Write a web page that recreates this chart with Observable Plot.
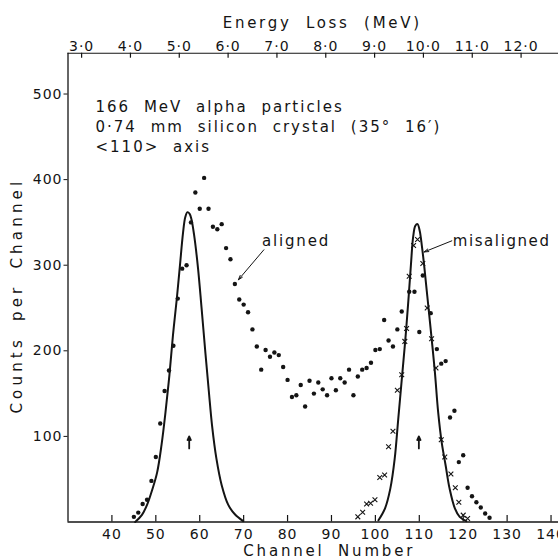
<!DOCTYPE html>
<html><head><meta charset="utf-8">
<script src="https://cdn.jsdelivr.net/npm/d3@7"></script>
<script src="https://cdn.jsdelivr.net/npm/@observablehq/plot@0.6"></script>
<style>
html,body{margin:0;padding:0;background:#fff;}
</style>
</head><body><div id="chart"></div>
<script>
// ---- data ----
const alignedChannel = [45,46,47,48,49,50,51,52,53,54,55,56,57,58,59,60,61,62,63,64,65,66,67,68,69,70,71,72,73,74,75,76,77,78,79,80,81,82,83,84,85,86,87,88,89,90,91,92,93,94,95,96,97,98,99,100,101,102,103,104,105,106,107.7,108.9,110,110.8,112.6,114,115,116,117,118,119,120,121,122,123,124,125,126];
const alignedCounts  = [6,11,21,26,48,76,115,153,177,206,261,296,300,350,385,366,402,366,345,342,348,320,307,278,260,254,245,225,205,178,201,193,198,195,181,166,146,148,160,135,165,150,163,155,148,168,154,168,163,178,148,170,178,180,186,201,202,236,212,205,225,246,269,269,222,288,244,202,185,188,122,130,70,78,40,30,23,17,10,5];

const misalignedChannel = [96.0,97.1,98.0,98.9,99.9,101.0,102.1,103.0,104.0,105.0,106.0,106.7,107.1,107.7,108.7,109.6,110.8,111.8,112.8,113.8,115.0,115.8,117.2,118.2,119.0,120.0,121.0];
const misalignedCounts  = [6,11.5,21,22,26,52,55,88,106,154,172,211,226,287,323,330,302,250,214,180,96,76,56,40,23,8,4];

// solid fitted curves
const fitAlignedChannel = [45.3,46.8,48.0,49.2,50.3,51.3,52.2,53.1,53.9,54.8,55.5,56.2,56.7,57.2,57.7,58.1,58.7,59.6,60.4,61.3,62.1,62.8,63.8,65.0,66.5,68.0,69.9];
const fitAlignedCounts  = [0,8,20,38,58,90,128,172,218,262,300,338,356,362,360,354,336,297,251,197,151,113,74,43,20,9,1];
const fitMisChannel = [100.7,102.2,103.4,104.4,105.2,106.0,106.8,107.5,108.1,108.6,109.1,109.6,110.1,110.6,111.1,111.7,112.4,113.5,114.3,115.1,116.0,116.9,118.1,119.2,120.7];
const fitMisCounts  = [2,16,39,74,120,166,212,258,301,333,346,348,340,322,300,270,235,178,128,93,66,39,16,6,1];

const markerChannel = [57.6, 109.9];
const markerFrom = [86, 86];
const markerTo = [100, 100];

const channelTicks = [40,50,60,70,80,90,100,110,120,130,140];
const countTicks = [100,200,300,400,500];
const energyTicks = [3,4,5,6,7,8,9,10,11,12];
// energy calibration of the top axis (channel of 3.0 MeV, channels per MeV)
const energyC0 = 33.1, energyE0 = 3, channelsPerMeV = 11.12;
const energyToChannel = e => energyC0 + (e - energyE0) * channelsPerMeV;

const infoLines = ["166 MeV alpha particles", "0·74 mm silicon crystal (35° 16′)", "<110> axis"];

// ---- build ----
const aligned = alignedChannel.map((c,i)=>({c, n: alignedCounts[i]}));
const misaligned = misalignedChannel.map((c,i)=>({c, n: misalignedCounts[i]}));
const fitA = fitAlignedChannel.map((c,i)=>({c, n: fitAlignedCounts[i]}));
const fitM = fitMisChannel.map((c,i)=>({c, n: fitMisCounts[i]}));
const markers = markerChannel.map((c,i)=>({c, a: markerFrom[i], b: markerTo[i]}));
const energyTickChannels = energyTicks.map(energyToChannel);

const W = 558, H = 559;
const mL = 67.5, mR = 0, mT = 52.7, mB = 37.5;
const xDomain = [30, 141.7], yDomain = [0, 547.7];
const frameH = H - mT - mB;
const ink = "#141414";
const font = "DejaVu Sans";

const chart = Plot.plot({
  width: W, height: H,
  marginLeft: mL, marginRight: mR, marginTop: mT, marginBottom: mB,
  style: {fontFamily: font, fontSize: "14px", color: ink, background: "#fff"},
  x: {domain: xDomain},
  y: {domain: yDomain},
  marks: [
    // frame lines
    Plot.ruleX([xDomain[0]], {stroke: ink, strokeWidth: 1.3}),
    Plot.ruleY([yDomain[0]], {stroke: ink, strokeWidth: 1.3}),
    Plot.ruleY([yDomain[1]], {stroke: ink, strokeWidth: 1.1}),
    // inward ticks
    Plot.ruleX(channelTicks, {x: d => d, insetTop: frameH - 6.5, stroke: ink, strokeWidth: 1.2}),
    Plot.ruleX(energyTickChannels, {x: d => d, insetBottom: frameH - 5, stroke: ink, strokeWidth: 1.2}),
    // axes
    Plot.axisX({ticks: channelTicks, tickSize: 0, tickPadding: 7.5, label: null, fontSize: 14}),
    Plot.axisX({anchor: "top", ticks: energyTickChannels, tickSize: 0, tickPadding: 2.5, label: null, fontSize: 14,
      tickFormat: c => {
        const e = Math.round(((c - energyC0) / channelsPerMeV + energyE0) * 10) / 10;
        return e.toFixed(1).replace(".", "·");
      }}),
    Plot.axisY({ticks: countTicks, tickSize: 4, tickPadding: 1.5, label: null, fontSize: 14, stroke: ink}),
    // fitted curves
    Plot.line(fitA, {x: "c", y: "n", curve: "catmull-rom", stroke: ink, strokeWidth: 2}),
    Plot.line(fitM, {x: "c", y: "n", curve: "catmull-rom", stroke: ink, strokeWidth: 2}),
    // data
    Plot.dot(aligned, {x: "c", y: "n", r: 2.2, fill: ink, stroke: "none"}),
    Plot.dot(misaligned, {x: "c", y: "n", symbol: "times", r: 2.3, stroke: ink, strokeWidth: 1.1}),
    // peak markers
    Plot.arrow(markers, {x: "c", y1: "a", y2: "b", stroke: ink, strokeWidth: 1.8, headLength: 5, headAngle: 50}),
    // annotation arrows
    Plot.arrow([{x1: 74.6, y1: 318, x2: 68.8, y2: 283}], {x1: "x1", y1: "y1", x2: "x2", y2: "y2", stroke: ink, strokeWidth: 1, headLength: 7, headAngle: 35}),
    Plot.arrow([{x1: 117.4, y1: 328.5, x2: 111.1, y2: 315.5}], {x1: "x1", y1: "y1", x2: "x2", y2: "y2", stroke: ink, strokeWidth: 1, headLength: 7, headAngle: 35}),
    Plot.text(["aligned"], {x: 74.2, y: 327.5, text: d => d, textAnchor: "start", lineAnchor: "middle", fontSize: 15, fill: ink}),
    Plot.text(["misaligned"], {x: 117.6, y: 328, text: d => d, textAnchor: "start", lineAnchor: "middle", fontSize: 15, fill: ink}),
    // info block
    Plot.text([infoLines.join("\n")], {frameAnchor: "top-left", dx: 27.5, dy: 44, text: d => d, textAnchor: "start", lineAnchor: "top", lineHeight: 1.35, fontSize: 15, fill: ink}),
    // axis titles
    Plot.text(["Energy Loss (MeV)"], {frameAnchor: "top", dx: 9, dy: -30, text: d => d, textAnchor: "middle", lineAnchor: "middle", fontSize: 15, fill: ink}),
    Plot.text(["Channel Number"], {frameAnchor: "bottom", dx: 16, dy: 29.5, text: d => d, textAnchor: "middle", lineAnchor: "middle", fontSize: 15, fill: ink}),
    Plot.text(["Counts per Channel"], {frameAnchor: "middle", dx: 17 - (mL + W - mR) / 2, dy: 126, rotate: -90, text: d => d, textAnchor: "start", lineAnchor: "middle", fontSize: 15, fill: ink})
  ]
});
document.getElementById("chart").appendChild(chart);

// letter spacing like the original technical lettering
const spacing = {
  "aligned": [1.8, 0], "misaligned": [1.6, 0],
  "Energy Loss (MeV)": [2.7, 7], "Channel Number": [2.8, 6], "Counts per Channel": [4.2, 6]
};
d3.select(chart).selectAll("text").each(function() {
  const t = this.textContent;
  let ls = 1, ws = 0;
  if (spacing[t]) [ls, ws] = spacing[t];
  else if (t.startsWith(infoLines[0])) { ls = 2.0; ws = 7; }
  this.setAttribute("letter-spacing", ls);
  this.setAttribute("word-spacing", ws);
  if (t === "Counts per Channel") this.setAttribute("text-anchor", "start");
});
</script>
</body></html>
